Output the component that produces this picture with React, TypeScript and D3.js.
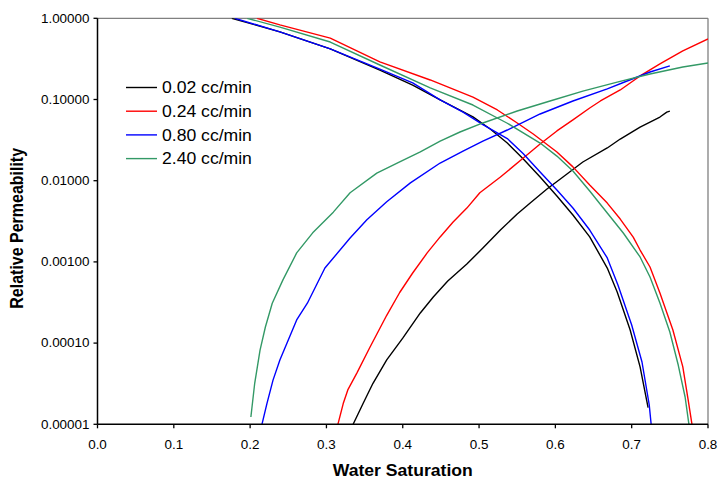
import React from "react";
import * as d3 from "d3";

const xTicks = [0, 0.1, 0.2, 0.3, 0.4, 0.5, 0.6, 0.7, 0.8];
const yTicks = [1, 0.1, 0.01, 0.001, 0.0001, 0.00001];

const seriesNames = ["0.02 cc/min", "0.24 cc/min", "0.80 cc/min", "2.40 cc/min"];
const seriesColors = ["#000000", "#ff0000", "#0000ff", "#339966"];

// oil relative permeability (decreasing)
const swKro002 = [0.176, 0.239, 0.305, 0.370, 0.413, 0.449, 0.492, 0.515, 0.537, 0.558, 0.580, 0.602, 0.623, 0.645, 0.668, 0.681, 0.698, 0.711, 0.7215];
const kro002 = [1.0, 0.68, 0.42, 0.23, 0.15, 0.099, 0.061, 0.043, 0.0291, 0.0185, 0.0111, 0.00649, 0.00378, 0.00203, 0.00084, 0.000425, 0.000145, 0.000051, 0.000016];
const swKro024 = [0.209, 0.239, 0.305, 0.370, 0.436, 0.492, 0.524, 0.550, 0.571, 0.602, 0.623, 0.645, 0.668, 0.685, 0.702, 0.711, 0.724, 0.737, 0.754, 0.767, 0.774, 0.779];
const kro024 = [1.0, 0.83, 0.57, 0.29, 0.174, 0.107, 0.0743, 0.0514, 0.0376, 0.0226, 0.0148, 0.00885, 0.0053, 0.00337, 0.00202, 0.0014, 0.000865, 0.000414, 0.000145, 0.000051, 0.00002, 0.00001];
const swKro080 = [0.180, 0.239, 0.305, 0.370, 0.413, 0.449, 0.479, 0.505, 0.537, 0.558, 0.580, 0.602, 0.623, 0.645, 0.668, 0.682, 0.700, 0.7135, 0.723, 0.7255];
const kro080 = [1.0, 0.68, 0.42, 0.237, 0.16, 0.099, 0.070, 0.049, 0.033, 0.0215, 0.0128, 0.00769, 0.00461, 0.00247, 0.00112, 0.00052, 0.000167, 0.0000585, 0.0000173, 0.00001];
const swKro240 = [0.196, 0.239, 0.305, 0.370, 0.436, 0.492, 0.537, 0.580, 0.602, 0.623, 0.645, 0.668, 0.689, 0.711, 0.724, 0.737, 0.750, 0.761, 0.770, 0.775];
const kro240 = [1.0, 0.78, 0.51, 0.266, 0.139, 0.0855, 0.051, 0.0291, 0.0201, 0.01316, 0.00746, 0.0040, 0.00227, 0.00115, 0.000652, 0.000312, 0.000137, 0.0000537, 0.0000217, 0.00001];

// water relative permeability (increasing)
const swKrw002 = [0.335, 0.348, 0.361, 0.379, 0.400, 0.423, 0.440, 0.459, 0.484, 0.505, 0.528, 0.550, 0.567, 0.589, 0.610, 0.636, 0.668, 0.685, 0.711, 0.737, 0.746, 0.750];
const krw002 = [1e-5, 1.8e-5, 3.2e-5, 6.2e-5, 1.15e-4, 2.35e-4, 3.7e-4, 5.82e-4, 9.42e-4, 1.48e-3, 2.47e-3, 3.89e-3, 5.31e-3, 7.9e-3, 0.0111, 0.017, 0.0253, 0.0326, 0.0458, 0.0608, 0.070, 0.072];
const swKrw024 = [0.315, 0.322, 0.328, 0.340, 0.357, 0.379, 0.396, 0.413, 0.432, 0.449, 0.466, 0.484, 0.501, 0.528, 0.558, 0.580, 0.602, 0.623, 0.645, 0.659, 0.685, 0.711, 0.737, 0.767, 0.800];
const krw024 = [1e-5, 1.8e-5, 2.65e-5, 4.3e-5, 8.9e-5, 2.2e-4, 4.2e-4, 7.3e-4, 1.29e-3, 2.03e-3, 3.1e-3, 4.6e-3, 7.1e-3, 0.0111, 0.019, 0.0283, 0.041, 0.056, 0.0786, 0.0959, 0.131, 0.195, 0.274, 0.396, 0.556];
const swKrw080 = [0.2155, 0.222, 0.230, 0.239, 0.261, 0.275, 0.298, 0.331, 0.353, 0.379, 0.410, 0.449, 0.479, 0.505, 0.537, 0.580, 0.623, 0.668, 0.694, 0.724, 0.750];
const krw080 = [1e-5, 1.8e-5, 3.5e-5, 6.2e-5, 1.93e-4, 3.1e-4, 8.4e-4, 1.97e-3, 3.3e-3, 5.5e-3, 9.4e-3, 0.0165, 0.0232, 0.0308, 0.0421, 0.0663, 0.0959, 0.135, 0.169, 0.218, 0.259];
const swKrw240 = [0.201, 0.206, 0.213, 0.220, 0.229, 0.243, 0.261, 0.282, 0.309, 0.331, 0.366, 0.396, 0.423, 0.449, 0.475, 0.505, 0.550, 0.593, 0.636, 0.681, 0.724, 0.767, 0.800];
const krw240 = [1.23e-5, 3.2e-5, 8.2e-5, 1.58e-4, 3.1e-4, 6.0e-4, 1.29e-3, 2.28e-3, 4.1e-3, 7.1e-3, 0.0124, 0.017, 0.0226, 0.0308, 0.0398, 0.0514, 0.0722, 0.0959, 0.127, 0.164, 0.206, 0.251, 0.282];

const curves = [
  { s: 0, x: swKro002, y: kro002 },
  { s: 0, x: swKrw002, y: krw002 },
  { s: 1, x: swKro024, y: kro024 },
  { s: 1, x: swKrw024, y: krw024 },
  { s: 2, x: swKro080, y: kro080 },
  { s: 2, x: swKrw080, y: krw080 },
  { s: 3, x: swKro240, y: kro240 },
  { s: 3, x: swKrw240, y: krw240 },
];

const W = 721;
const H = 486;
const L = 97.5, R = 708, T = 18.3, B = 424.3;
const FONT = "'Liberation Sans', Arial, sans-serif";

export default function App() {
  const x = d3.scaleLinear().domain([0, 0.8]).range([L, R]);
  const y = d3.scaleLog().domain([0.00001, 1]).range([B, T]);
  const line = d3
    .line<[number, number]>()
    .x((d) => x(d[0]))
    .y((d) => y(d[1]));
  const sx = 1.12;
  return (
    <svg width={W} height={H} style={{ position: "absolute", left: 0, top: 0, background: "#fff" }}>
      <rect x={0} y={0} width={W} height={H} fill="#fff" />
      <defs>
        <clipPath id="plot">
          <rect x={L} y={T} width={R - L} height={B - T} />
        </clipPath>
      </defs>
      <line x1={L} x2={R} y1={T} y2={T} stroke="#808080" strokeWidth={1.3} />
      <line x1={R} x2={R} y1={T} y2={B} stroke="#808080" strokeWidth={1.3} />
      <g clipPath="url(#plot)">
        {curves.map((c, i) => (
          <path
            key={i}
            d={line(c.x.map((v, j) => [v, c.y[j]] as [number, number])) || ""}
            fill="none"
            stroke={seriesColors[c.s]}
            strokeWidth={1.4}
            strokeLinejoin="round"
          />
        ))}
      </g>
      <line x1={L} x2={L} y1={T} y2={B} stroke="#000" strokeWidth={1.5} />
      <line x1={L} x2={R} y1={B} y2={B} stroke="#000" strokeWidth={1.5} />
      {yTicks.map((t) => (
        <g key={t}>
          <line x1={L - 4} x2={L} y1={y(t)} y2={y(t)} stroke="#000" strokeWidth={1.3} />
          <text
            transform={`translate(${L - 8},${y(t) + 4.3}) scale(${sx},1)`}
            textAnchor="end"
            fontFamily={FONT}
            fontSize={12}
            fill="#000"
          >
            {t.toFixed(5)}
          </text>
        </g>
      ))}
      {xTicks.map((t) => (
        <g key={t}>
          <line x1={x(t)} x2={x(t)} y1={B} y2={B + 4} stroke="#000" strokeWidth={1.3} />
          <text
            transform={`translate(${x(t)},${449}) scale(${sx},1)`}
            textAnchor="middle"
            fontFamily={FONT}
            fontSize={12}
            fill="#000"
          >
            {t.toFixed(1)}
          </text>
        </g>
      ))}
      <text
        transform={`translate(${(L + R) / 2},${476}) scale(1.1,1)`}
        textAnchor="middle"
        fontFamily={FONT}
        fontSize={16}
        fontWeight="bold"
      >
        Water Saturation
      </text>
      <text
        transform={`translate(${23},${(T + B) / 2 + 7}) rotate(-90) scale(1,1.1)`}
        textAnchor="middle"
        fontFamily={FONT}
        fontSize={16}
        fontWeight="bold"
      >
        Relative Permeability
      </text>
      {seriesNames.map((n, i) => {
        const ly = 87.5 + i * 23.7;
        return (
          <g key={n}>
            <line x1={126} x2={157} y1={ly} y2={ly} stroke={seriesColors[i]} strokeWidth={1.4} />
            <text
              transform={`translate(162,${ly + 5.8}) scale(1.1,1)`}
              fontFamily={FONT}
              fontSize={16}
              fill="#000"
            >
              {n}
            </text>
          </g>
        );
      })}
    </svg>
  );
}
